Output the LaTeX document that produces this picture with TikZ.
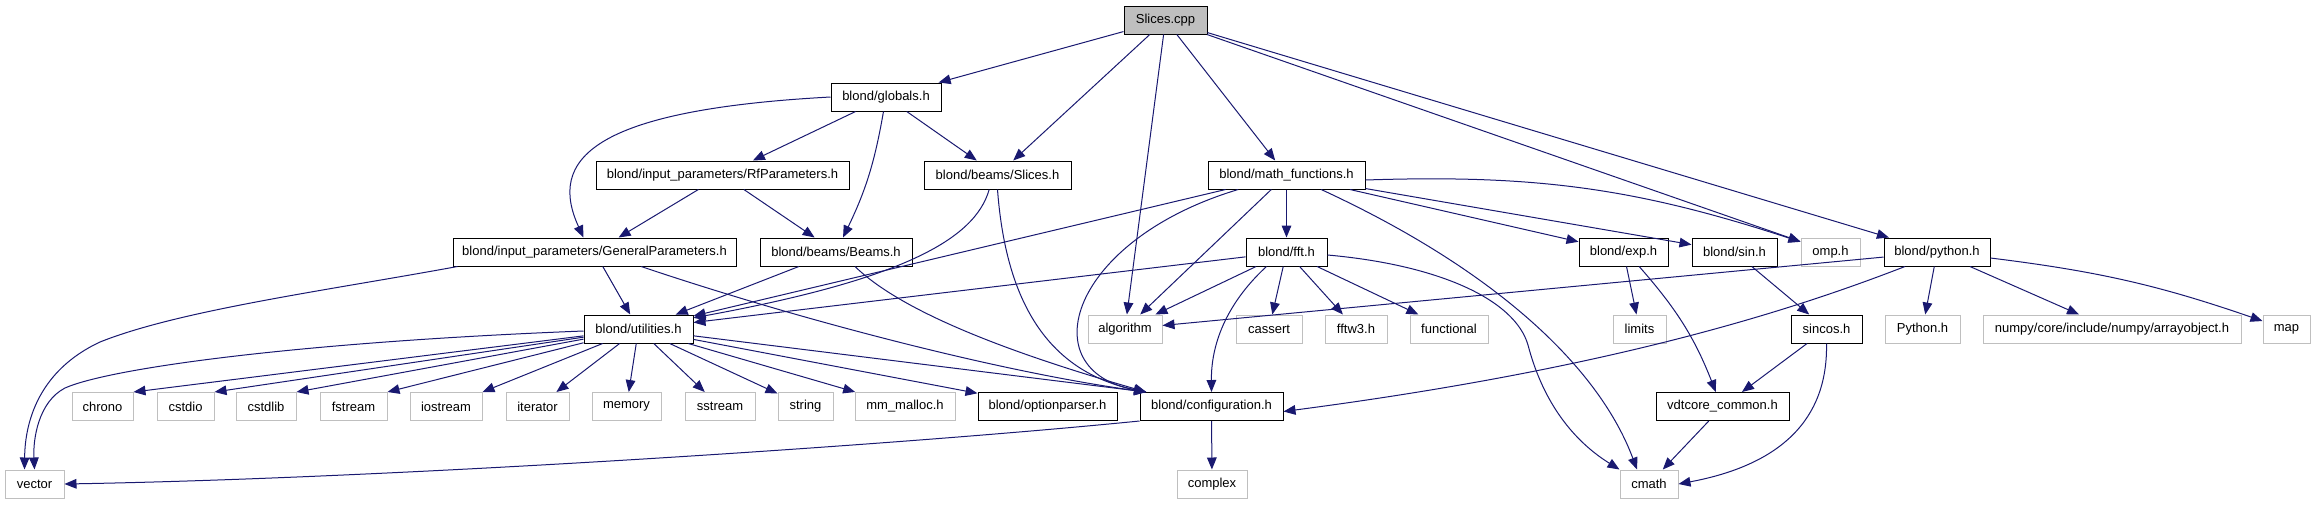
\documentclass[tikz,border=0pt]{standalone}
\usepackage{fontspec}
\setmainfont{Liberation Sans}
\usepackage{xcolor}
\usetikzlibrary{arrows.meta,positioning}

\definecolor{edgeblue}{HTML}{191970}
\definecolor{extgray}{HTML}{BFBFBF}

\begin{document}
\begin{tikzpicture}[x=0.3mm,y=-0.3mm,
    font=\fontsize{11.1}{13}\selectfont,
    >={Triangle[length=3.6mm,width=2.9mm]},
    filebox/.style={draw, line width=0.3mm, inner sep=0pt, minimum height=8.4mm, minimum width=#1*0.3mm},
    localh/.style={filebox=#1, draw=black, fill=white},
    sysh/.style={filebox=#1, draw=extgray, fill=white},
    srcfile/.style={filebox=#1, draw=black, fill=extgray},
    dep/.style={->, draw=edgeblue, line width=0.3mm}]
  \useasboundingbox (0,0) rectangle (2315,504);

  \node[srcfile=83] (cpp) at (1165.5,20) {Slices.cpp};
  \node[localh=110] (glb) at (886,97) {blond/globals.h};

  \node[localh=253] (rfp) at (722.5,175) {blond/input\_parameters/RfParameters.h};
  \node[localh=147] (slh) at (997.5,175) {blond/beams/Slices.h};
  \node[localh=157] (mth) at (1286.5,175) {blond/math\_functions.h};

  \node[localh=283] (gen) at (594.5,252) {blond/input\_parameters/GeneralParameters.h};
  \node[localh=152] (bms) at (836,252) {blond/beams/Beams.h};
  \node[localh=81] (fft) at (1286.5,252) {blond/fft.h};
  \node[localh=89] (exp) at (1623.5,252) {blond/exp.h};
  \node[localh=85] (sin) at (1734.5,252) {blond/sin.h};
  \node[sysh=59] (omp) at (1830.5,252) {omp.h};
  \node[localh=106] (pyh) at (1937,252) {blond/python.h};

  \node[localh=109] (utl) at (638.5,329) {blond/utilities.h};
  \node[sysh=74] (alg) at (1125,329) {algorithm};
  \node[sysh=66] (cas) at (1269,329) {cassert};
  \node[sysh=62] (ffw) at (1356,329) {fftw3.h};
  \node[sysh=78] (fun) at (1449,329) {functional};
  \node[sysh=53] (lim) at (1639.5,329) {limits};
  \node[localh=71] (snc) at (1826.5,329) {sincos.h};
  \node[sysh=75] (pyt) at (1922.5,329) {Python.h};
  \node[sysh=258] (npy) at (2112,329) {numpy/core/include/numpy/arrayobject.h};
  \node[sysh=47] (map) at (2286.5,329) {map};

  \node[sysh=61] (chr) at (102.5,406.5) {chrono};
  \node[sysh=57] (cio) at (185.5,406.5) {cstdio};
  \node[sysh=60] (clb) at (266,406.5) {cstdlib};
  \node[sysh=67] (fst) at (353.5,406.5) {fstream};
  \node[sysh=72] (ios) at (446,406.5) {iostream};
  \node[sysh=63] (itr) at (537.5,406.5) {iterator};
  \node[sysh=69] (mem) at (626.5,406.5) {memory};
  \node[sysh=70] (sst) at (720,406.5) {sstream};
  \node[sysh=55] (str) at (805.5,406.5) {string};
  \node[sysh=100] (mml) at (905,406.5) {mm\_malloc.h};
  \node[localh=139] (opt) at (1047.5,406.5) {blond/optionparser.h};
  \node[localh=143] (cfg) at (1211.5,406.5) {blond/configuration.h};
  \node[localh=133] (vdt) at (1722.5,406.5) {vdtcore\_common.h};

  \node[sysh=59] (vec) at (34.5,484) {vector};
  \node[sysh=70] (cpx) at (1212,484) {complex};
  \node[sysh=58] (cmt) at (1649,484) {cmath};

  % Slices.cpp
  \draw[dep] (cpp) -- (glb);
  \draw[dep] (cpp) -- (slh);
  \draw[dep] (cpp) -- (alg);
  \draw[dep] (cpp) -- (mth);
  \draw[dep] (cpp) -- (omp);
  \draw[dep] (cpp) -- (pyh);

  % globals.h and the parameters
  \draw[dep] (glb.west) .. controls (590,110) and (548,160) .. ([xshift=-3.3mm]gen.north);
  \draw[dep] (glb) -- (rfp);
  \draw[dep] (glb) to[bend left=8] (bms);
  \draw[dep] (glb) -- (slh);
  \draw[dep] (rfp) -- (gen);
  \draw[dep] (rfp) -- (bms);
  \draw[dep] (gen) -- (utl);
  \draw[dep] ([xshift=1.5mm]gen.south west) .. controls (330,290) and (180,310) .. (100,342)
    .. controls (40,370) and (25,420) .. ([xshift=-3mm]vec.north);
  \draw[dep] ([xshift=14mm]gen.south) .. controls (800,320) and (1000,372) .. ([xshift=2mm]cfg.north west);
  \draw[dep] (bms) -- (utl);
  \draw[dep] ([xshift=5.7mm]bms.south) .. controls (900,310) and (1000,350) .. ([xshift=2mm]cfg.north west);
  \draw[dep] ([xshift=-2.5mm]slh.south) .. controls (975,240) and (900,280) .. ([yshift=-1mm]utl.north east);
  \draw[dep] (slh.south) .. controls (1005,290) and (1040,370) .. ([xshift=2mm]cfg.north west);

  % math_functions.h
  \draw[dep] (mth) -- (utl);
  \draw[dep] ([xshift=-14.5mm]mth.south) .. controls (1070,240) and (1030,370) .. ([xshift=2mm]cfg.north west);
  \draw[dep] (mth) -- (alg);
  \draw[dep] (mth) -- (fft);
  \draw[dep] (mth) -- (exp);
  \draw[dep] (mth) -- (sin);
  \draw[dep] ([yshift=-1.5mm]mth.east) to[bend left=10] (omp);
  \draw[dep] ([xshift=10.4mm]mth.south) .. controls (1500,272) and (1600,370) .. ([xshift=-3.6mm]cmt.north);

  % fft.h
  \draw[dep] (fft) -- (utl);
  \draw[dep] (fft) -- (alg);
  \draw[dep] ([xshift=-6mm]fft.south) .. controls (1230,300) and (1211,340) .. (cfg.north);
  \draw[dep] (fft) -- (cas);
  \draw[dep] (fft) -- (ffw);
  \draw[dep] (fft) -- (fun);
  \draw[dep] ([yshift=-0.9mm]fft.east) .. controls (1440,265) and (1515,300) .. (1528,345)
    .. controls (1545,410) and (1580,445) .. (cmt.north west);

  % vdt part
  \draw[dep] (exp) -- (lim);
  \draw[dep] ([xshift=4.7mm]exp.south) to[bend left=10] ([xshift=-2mm]vdt.north);
  \draw[dep] (sin) -- (snc);
  \draw[dep] (snc) -- (vdt);
  \draw[dep] (snc.south) .. controls (1828,420) and (1780,465) .. (cmt.east);
  \draw[dep] (vdt) -- (cmt);

  % python.h
  \draw[dep] (pyh) -- (alg);
  \draw[dep] ([xshift=-9.6mm]pyh.south) .. controls (1780,315) and (1600,370) .. ([yshift=-1.5mm]cfg.east);
  \draw[dep] (pyh) -- (pyt);
  \draw[dep] (pyh) -- (npy);
  \draw[dep] (pyh) to[bend left=6] (map);

  % utilities.h
  \draw[dep] ([yshift=-0.6mm]utl.west) .. controls (300,342) and (110,368) .. (65,388)
    .. controls (38,402) and (33,440) .. (vec.north);
  \draw[dep] (utl) -- (chr.north east);
  \draw[dep] (utl) -- (cio.north east);
  \draw[dep] (utl) -- (clb.north east);
  \draw[dep] (utl) -- (fst.north east);
  \draw[dep] (utl) -- (ios.north east);
  \draw[dep] (utl) -- (itr);
  \draw[dep] (utl) -- (mem);
  \draw[dep] (utl) -- (sst);
  \draw[dep] (utl) -- (str);
  \draw[dep] (utl) -- (mml);
  \draw[dep] (utl) -- (opt);
  \draw[dep] (utl) -- ([xshift=2mm]cfg.north west);

  % configuration.h
  \draw[dep] (cfg) -- (cpx);
  \draw[dep] (cfg.south west) .. controls (900,445) and (400,478) .. (vec.east);
\end{tikzpicture}
\end{document}
